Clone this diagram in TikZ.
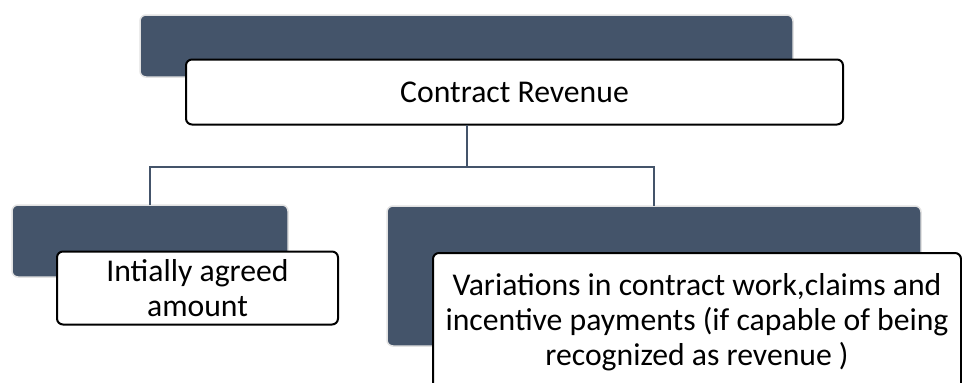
\documentclass[tikz,border=0pt]{standalone}
\usepackage{fontspec}
\setmainfont{Carlito}
\begin{document}
\definecolor{slate}{HTML}{44546A}
\definecolor{rim}{HTML}{E2E2E2}
\begin{tikzpicture}[x=1pt,y=-1pt,
  backbox/.style={draw=rim, line width=1.5pt, fill=slate, rounded corners=6pt,
    inner sep=0pt, outer sep=0pt},
  labelbox/.style={draw=black, line width=2pt, fill=white, rounded corners=6pt,
    inner sep=0pt, outer sep=0pt, align=center,
    font=\fontsize{31.7}{35}\selectfont},
  link/.style={draw=slate, line width=2pt}]
\useasboundingbox (0,0) rectangle (962,383);
\begin{scope}
\clip (0,0) rectangle (962,383);
% top level
\node[backbox, minimum width=653pt, minimum height=62pt] (topdark) at (466.5,46) {};
\node[labelbox, minimum width=657pt, minimum height=65pt] (toptext) at (514.5,92) {Contract Revenue};
% left branch
\node[backbox, minimum width=276pt, minimum height=72pt] (leftdark) at (150,241) {};
\node[labelbox, minimum width=281pt, minimum height=73pt] (lefttext) at (197.5,288) {Intially agreed\\amount};
% right branch
\node[backbox, minimum width=534pt, minimum height=140pt] (rightdark) at (654,276) {};
\node[labelbox, minimum width=528pt, minimum height=138pt] (righttext) at (697,322)
  {Variations in contract work,claims and\\incentive payments (if capable of being\\recognized as revenue )};
% connectors
\coordinate (junction) at (466.5,167);
\draw[link] (toptext.south -| topdark.center) -- (junction);
\draw[link] (leftdark.north) |- (junction) -| (rightdark.north);
\end{scope}
\end{tikzpicture}
\end{document}
